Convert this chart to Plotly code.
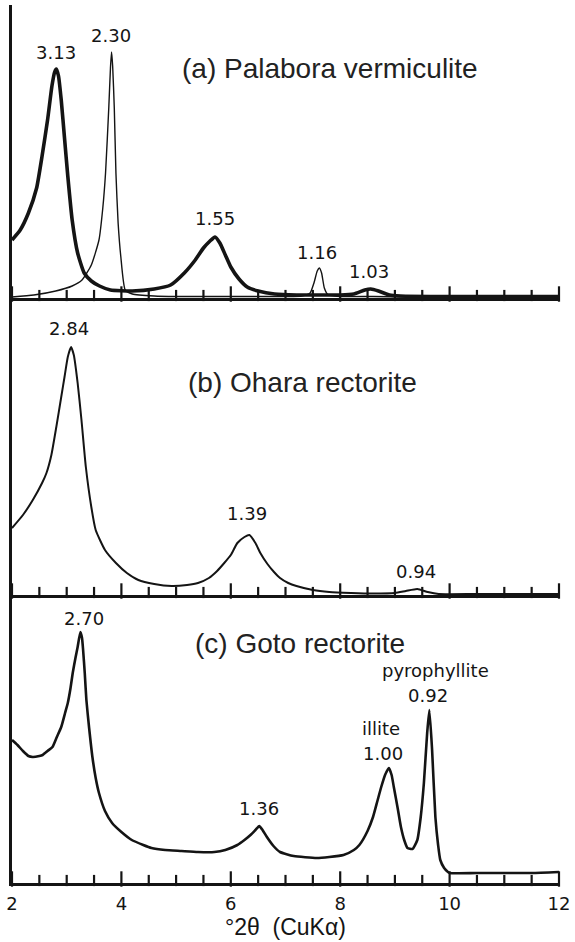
import plotly.graph_objects as go

# ---------------- data (2theta in degrees, intensity in arbitrary units) ----------------
# (a) Palabora vermiculite - thick trace (3.13, 1.55, 1.03 nm)
a_thick_x = [2.00, 2.15, 2.30, 2.45, 2.55, 2.65, 2.73, 2.78, 2.81, 2.85, 2.90, 2.96, 3.02, 3.10,
             3.20, 3.32, 3.45, 3.60, 3.80, 4.20, 4.60, 4.90, 5.15, 5.35, 5.50, 5.62, 5.71, 5.80,
             5.90, 6.00, 6.15, 6.30, 6.50, 6.80, 7.20, 7.60, 8.00, 8.25, 8.45, 8.56, 8.70, 8.90,
             9.10, 10.0, 11.0, 12.0]
a_thick_y = [58, 68, 85, 110, 142, 178, 212, 226, 229, 222, 198, 160, 122, 78,
             45, 25, 17, 12, 8, 7, 9, 13, 25, 38, 50, 57, 61, 55,
             43, 31, 19, 11, 7, 4, 3, 3, 3, 4, 8, 9, 7, 3,
             2, 1.5, 1.5, 1.5]
# (a) thin trace (2.30, 1.16 nm)
a_thin_x = [2.00, 2.40, 2.80, 3.10, 3.28, 3.45, 3.59, 3.66, 3.71, 3.77, 3.80, 3.82, 3.84, 3.87,
            3.90, 3.94, 3.99, 4.07, 4.20, 4.60, 5.00, 6.00, 7.00, 7.30, 7.45, 7.52, 7.58, 7.62,
            7.66, 7.71, 7.78, 8.00, 8.60, 9.20]
a_thin_y = [1, 3, 7, 12, 18, 33, 58, 90, 125, 191, 230, 246, 232, 190,
            125, 75, 41, 8, 4, 2, 1.5, 1.5, 1.5, 2, 5, 15, 27, 30,
            25, 10, 3, 1.5, 1.5, 1]

# (b) Ohara rectorite (2.84, 1.39, 0.94 nm)
b_x = [2.00, 2.20, 2.38, 2.55, 2.63, 2.72, 2.81, 2.90, 2.96, 3.02, 3.08, 3.13, 3.20, 3.27,
       3.35, 3.45, 3.53, 3.70, 3.90, 4.10, 4.31, 4.60, 4.92, 5.20, 5.40, 5.60, 5.75, 5.88,
       6.00, 6.12, 6.25, 6.34, 6.45, 6.54, 6.67, 6.79, 6.90, 7.05, 7.20, 7.50, 7.80, 8.20,
       8.60, 9.00, 9.20, 9.41, 9.60, 9.80, 10.5, 12.0]
b_y = [67, 80, 95, 112, 122, 140, 168, 198, 218, 238, 248, 240, 212, 175,
       128, 88, 65, 45, 32, 22, 15, 11, 9, 10, 12, 17, 24, 32,
       40, 52, 58, 60, 52, 42, 31, 23, 17, 12, 9, 5, 3, 2,
       1.5, 2, 4, 6, 3, 1, 1, 1]

# (c) Goto rectorite (2.70, 1.36, illite 1.00, pyrophyllite 0.92 nm)
c_x = [2.00, 2.10, 2.20, 2.30, 2.38, 2.50, 2.56, 2.65, 2.74, 2.82, 2.90, 2.97, 3.02, 3.07,
       3.11, 3.16, 3.20, 3.25, 3.28, 3.30, 3.33, 3.36, 3.41, 3.47, 3.53, 3.59, 3.70, 3.83,
       4.00, 4.19, 4.40, 4.55, 4.80, 5.10, 5.40, 5.70, 5.90, 6.12, 6.25, 6.36, 6.45, 6.52,
       6.58, 6.66, 6.78, 6.90, 7.15, 7.57, 7.80, 8.06, 8.25, 8.35, 8.50, 8.60, 8.68, 8.75,
       8.82, 8.89, 8.94, 8.98, 9.05, 9.11, 9.17, 9.23, 9.32, 9.41, 9.47, 9.53, 9.59, 9.63,
       9.68, 9.74, 9.79, 9.83, 9.90, 9.97, 10.0, 10.5, 11.0, 11.5, 12.0]
c_y = [143, 138, 132, 127, 126, 127, 128, 132, 136, 146, 156, 170, 180, 195,
       210, 225, 236, 251, 245, 233, 210, 183, 155, 126, 105, 90, 72, 60,
       51, 43, 38, 35, 33, 32, 31, 31, 33, 38, 43, 48, 53, 57,
       53, 46, 37, 31, 27, 25, 26, 28, 33, 38, 52, 66, 82, 96,
       108, 115, 108, 96, 75, 56, 43, 35, 34, 43, 65, 100, 150, 173,
       133, 66, 38, 23, 15, 11, 10, 10, 10, 10, 11]

# peak labels: (text, x, y)
a_labels = [("3.13", 2.81, 246), ("2.30", 3.81, 263), ("1.55", 5.71, 80),
            ("1.16", 7.58, 46), ("1.03", 8.53, 27)]
b_labels = [("2.84", 3.05, 267), ("1.39", 6.30, 82), ("0.94", 9.38, 24)]
c_labels = [("2.70", 3.32, 265), ("1.36", 6.52, 75), ("illite", 8.74, 155),
            ("1.00", 8.78, 130), ("pyrophyllite", 9.74, 213), ("0.92", 9.61, 188)]

panel_titles = [("(a) Palabora vermiculite", 5.07, 230, "y"),
                ("(b) Ohara rectorite", 5.18, 213, "y2"),
                ("(c) Goto rectorite", 5.31, 240, "y3")]

x_range = [2, 12]
x_major_ticks = [2, 4, 6, 8, 10, 12]
x_minor_ticks = [2.5, 3, 3.5, 4.5, 5, 5.5, 6.5, 7, 7.5, 8.5, 9, 9.5, 10.5, 11, 11.5]
x_axis_title = "°2θ\u00a0 (CuKα)"

# ---------------- figure ----------------
INK = "#141414"
fig = go.Figure()

def add_line(x, y, xa, ya, w):
    fig.add_trace(go.Scatter(x=x, y=y, xaxis=xa, yaxis=ya, mode="lines",
                             line=dict(color=INK, width=w, shape="spline", smoothing=0.5),
                             showlegend=False, hoverinfo="skip"))

add_line(a_thin_x, a_thin_y, "x", "y", 1.4)
add_line(a_thick_x, a_thick_y, "x", "y", 3.6)
add_line(b_x, b_y, "x2", "y2", 2.0)
add_line(c_x, c_y, "x3", "y3", 2.6)

# tick marks resting on each panel's base line (short every 0.5 deg, tall every 2 deg)
for xa, ya in [("x", "y"), ("x2", "y2"), ("x3", "y3")]:
    fig.add_trace(go.Scatter(x=x_minor_ticks, y=[2.5] * len(x_minor_ticks), xaxis=xa, yaxis=ya,
                             mode="markers", cliponaxis=False,
                             marker=dict(symbol="line-ns", size=8, color=INK,
                                         line=dict(width=2.2, color=INK)),
                             showlegend=False, hoverinfo="skip"))
    fig.add_trace(go.Scatter(x=x_major_ticks, y=[4] * len(x_major_ticks), xaxis=xa, yaxis=ya,
                             mode="markers", cliponaxis=False,
                             marker=dict(symbol="line-ns", size=11, color=INK,
                                         line=dict(width=2.2, color=INK)),
                             showlegend=False, hoverinfo="skip"))

lab_font = dict(family="DejaVu Sans, Verdana, sans-serif", size=18, color=INK)
ann = []
for labels, xr, yr in [(a_labels, "x", "y"), (b_labels, "x2", "y2"), (c_labels, "x3", "y3")]:
    for t, xx, yy in labels:
        ann.append(dict(text=t, x=xx, y=yy, xref=xr, yref=yr, showarrow=False,
                        xanchor="center", yanchor="middle", font=lab_font))
for t, xx, yy, yr in panel_titles:
    ann.append(dict(text=t, x=xx, y=yy, xref="x", yref=yr, showarrow=False,
                    xanchor="left", yanchor="middle",
                    font=dict(family="Liberation Sans, Arial, sans-serif", size=28, color="#222")))
ann.append(dict(text=x_axis_title, x=0.5, y=-0.0505, xref="paper", yref="paper",
                showarrow=False, xanchor="center", yanchor="middle", borderpad=0,
                font=dict(family="Liberation Sans, Arial, sans-serif", size=23, color=INK)))

H = 878.0
dom_a = [(883 - 298) / H, 1.0]
dom_b = [(883 - 595) / H, (883 - 298) / H]
dom_c = [0.0, (883 - 595) / H]

tickfont = dict(family="DejaVu Sans, Verdana, sans-serif", size=18, color=INK)

def xaxis(anchor, labels):
    d = dict(range=x_range, anchor=anchor, showline=True, linewidth=3, linecolor=INK,
             showgrid=False, zeroline=False, ticks="",
             tickmode="array", tickvals=x_major_ticks,
             ticktext=[str(v) for v in x_major_ticks],
             showticklabels=labels, ticklabeloverflow="allow", tickfont=tickfont)
    if labels:
        d["ticklabelstandoff"] = 2
    return d

def yaxis(dom, top, anchor):
    return dict(domain=dom, range=[0, top], showline=True, linewidth=3, linecolor=INK,
                showgrid=False, zeroline=False, showticklabels=False, ticks="", anchor=anchor)

fig.update_layout(
    width=575, height=942,
    margin=dict(l=12, r=10, t=5, b=59),
    paper_bgcolor="white", plot_bgcolor="white",
    xaxis=xaxis("y", False),
    xaxis2=xaxis("y2", False),
    xaxis3=xaxis("y3", True),
    yaxis=yaxis(dom_a, 293, "x"),
    yaxis2=yaxis(dom_b, 297, "x2"),
    yaxis3=yaxis(dom_c, 288, "x3"),
    annotations=ann,
)

fig.write_html("out.html")
